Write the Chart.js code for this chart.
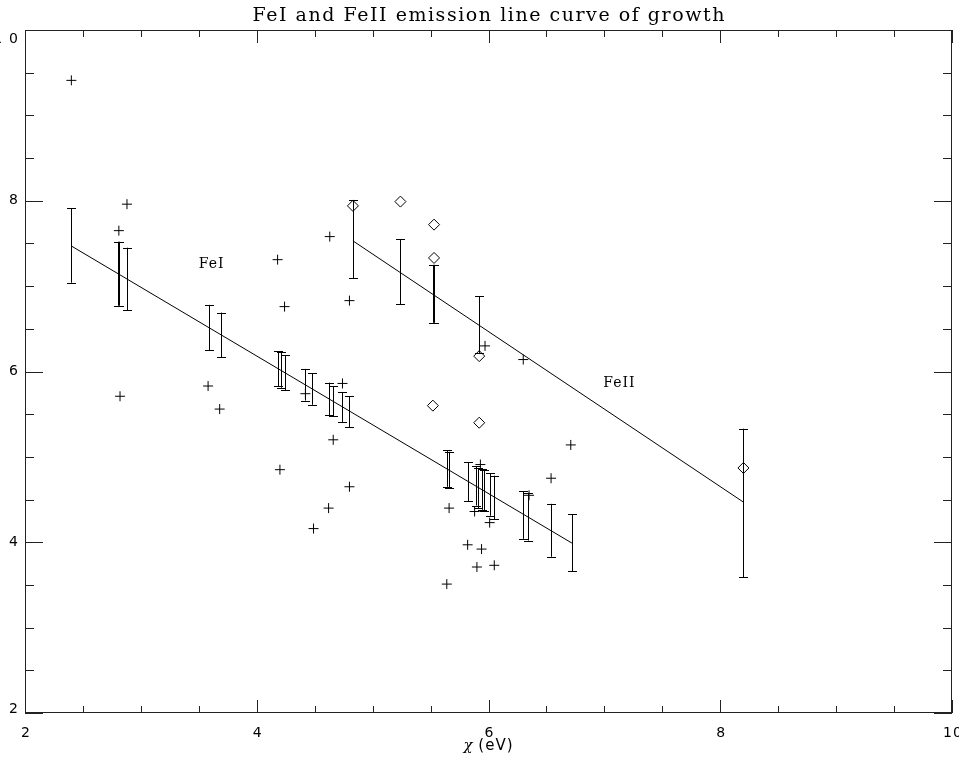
<!DOCTYPE html>
<html>
<head>
<meta charset="utf-8">
<title>FeI and FeII emission line curve of growth</title>
<script src="https://cdn.jsdelivr.net/npm/chart.js@4.4.1/dist/chart.umd.min.js"></script>
<style>
  html, body { margin: 0; padding: 0; background: #fff; }
  #wrap { width: 959px; height: 765px; }
</style>
</head>
<body>
<div id="wrap"><canvas id="chart" width="959" height="765"></canvas></div>
<script>
// Axis ranges and tick labels
const xRange = [2, 10];
const yRange = [2, 10];
const xTickValues = [2, 4, 6, 8, 10];
const xTickLabels = ['2', '4', '6', '8', '10'];
const yTickValues = [2, 4, 6, 8, 10];
const yTickLabels = ['2', '4', '6', '8', '10'];
const minorStep = 0.5;

// FeI measured points (plus signs)
const feIX = [2.40, 2.81, 2.88, 2.82, 3.58, 3.68, 4.18, 4.24, 4.20, 4.49, 4.63, 4.62, 4.66,
              4.80, 4.80, 4.74, 4.42, 5.93, 5.88, 6.01, 5.66, 5.82, 5.94, 5.90, 6.05, 5.64,
              6.54, 6.71, 6.30, 6.35, 5.97];
const feIY = [9.41, 7.65, 7.96, 5.71, 5.83, 5.56, 7.31, 6.76, 4.85, 4.16, 7.58, 4.40, 5.20,
              6.83, 4.65, 5.86, 5.74, 4.91, 4.36, 4.23, 4.40, 3.97, 3.92, 3.71, 3.73, 3.51,
              4.75, 5.14, 6.14, 4.55, 6.30];

// FeII measured points (diamonds)
const feIIX = [4.83, 5.24, 5.53, 5.53, 5.92, 5.52, 5.92, 8.20];
const feIIY = [7.94, 7.99, 7.72, 7.33, 6.18, 5.60, 5.40, 4.87];

// FeI error bars
const feIBarX = [2.40, 2.805, 2.81, 2.88, 3.59, 3.69, 4.18, 4.21, 4.24, 4.42, 4.48, 4.62, 4.66,
                 4.74, 4.80, 5.64, 5.66, 5.82, 5.89, 5.91, 5.94, 5.96, 6.01, 6.05, 6.30, 6.34,
                 6.54, 6.72];
const feIBarHigh = [7.91, 7.52, 7.52, 7.45, 6.78, 6.69, 6.24, 6.23, 6.19, 6.03, 5.98, 5.87, 5.83,
                    5.76, 5.71, 5.08, 5.06, 4.94, 4.89, 4.87, 4.86, 4.85, 4.81, 4.78, 4.60, 4.58,
                    4.45, 4.33];
const feIBarLow = [7.04, 6.77, 6.77, 6.72, 6.25, 6.17, 5.83, 5.81, 5.78, 5.66, 5.61, 5.49, 5.48,
                   5.41, 5.35, 4.65, 4.63, 4.48, 4.43, 4.40, 4.38, 4.37, 4.31, 4.27, 4.04, 4.02,
                   3.83, 3.66];

// FeII error bars
const feIIBarX = [4.83, 5.24, 5.525, 5.53, 5.915, 5.92, 8.20];
const feIIBarHigh = [8.01, 7.55, 7.25, 7.25, 6.88, 6.88, 5.33];
const feIIBarLow = [7.09, 6.79, 6.57, 6.57, 6.22, 6.22, 3.59];

// Fitted curve-of-growth lines
const feIFitX = [2.40, 6.72];
const feIFitY = [7.47, 3.99];
const feIIFitX = [4.83, 8.20];
const feIIFitY = [7.53, 4.47];

// Text
const chartTitle = 'FeI and FeII emission line curve of growth';
const xAxisSymbol = 'χ';
const xAxisUnit = ' (eV)';
const feILabel = { text: 'FeI', x: 3.61, y: 7.26 };
const feIILabel = { text: 'FeII', x: 7.13, y: 5.86 };

const toPoints = (xs, ys) => xs.map((x, i) => ({ x, y: ys[i] }));

// Draws the box, inward ticks, labels and the error bars
const framePlugin = {
  id: 'frame',
  afterDatasetsDraw(chart) {
    const ctx = chart.ctx;
    const xs = chart.scales.x;
    const ys = chart.scales.y;
    ctx.save();
    ctx.strokeStyle = '#000';
    ctx.lineWidth = 1;
    const bars = [[feIBarX, feIBarLow, feIBarHigh], [feIIBarX, feIIBarLow, feIIBarHigh]];
    bars.forEach(([bx, lo, hi]) => {
      bx.forEach((x, i) => {
        const px = Math.round(xs.getPixelForValue(x)) + 0.5;
        const p1 = ys.getPixelForValue(lo[i]);
        const p2 = ys.getPixelForValue(hi[i]);
        ctx.beginPath();
        ctx.moveTo(px, p1);
        ctx.lineTo(px, p2);
        ctx.moveTo(px - 4.5, Math.round(p1) + 0.5);
        ctx.lineTo(px + 4.5, Math.round(p1) + 0.5);
        ctx.moveTo(px - 4.5, Math.round(p2) + 0.5);
        ctx.lineTo(px + 4.5, Math.round(p2) + 0.5);
        ctx.stroke();
      });
    });
    ctx.restore();
  },
  afterDraw(chart) {
    const ctx = chart.ctx;
    const { left, right, top, bottom } = chart.chartArea;
    const xs = chart.scales.x;
    const ys = chart.scales.y;
    ctx.save();
    ctx.strokeStyle = '#222';
    ctx.lineWidth = 1;
    ctx.strokeRect(left + 0.5, top + 0.5, right - left - 1, bottom - top - 1);

    ctx.beginPath();
    for (let v = xRange[0]; v <= xRange[1] + 1e-9; v += minorStep) {
      const major = Math.abs(v % 2) < 1e-9;
      const len = major ? 13 : 7;
      const px = Math.round(xs.getPixelForValue(v)) + 0.5;
      ctx.moveTo(px, bottom);
      ctx.lineTo(px, bottom - len);
      ctx.moveTo(px, top);
      ctx.lineTo(px, top + len);
    }
    for (let v = yRange[0]; v <= yRange[1] + 1e-9; v += minorStep) {
      const major = Math.abs(v % 2) < 1e-9;
      const len = major ? 18 : 9;
      const py = Math.round(ys.getPixelForValue(v)) + 0.5;
      ctx.moveTo(left, py);
      ctx.lineTo(left + len, py);
      ctx.moveTo(right, py);
      ctx.lineTo(right - len, py);
    }
    ctx.stroke();

    ctx.fillStyle = '#000';
    ctx.font = '14px "DejaVu Sans"';
    ctx.textAlign = 'center';
    ctx.textBaseline = 'top';
    ctx.letterSpacing = '1px';
    xTickValues.forEach((v, i) => {
      ctx.fillText(xTickLabels[i], xs.getPixelForValue(v) + 1, bottom + 13);
    });
    // wide spacing pushes the leading digit of "10" off the left edge, as in the original
    ctx.textAlign = 'right';
    ctx.letterSpacing = '7px';
    yTickValues.forEach((v, i) => {
      const py = ys.getPixelForValue(v);
      if (i === 0) {
        ctx.textBaseline = 'alphabetic';
        ctx.fillText(yTickLabels[i], 25, py);
      } else if (i === yTickValues.length - 1) {
        ctx.textBaseline = 'top';
        ctx.fillText(yTickLabels[i], 25, py + 2);
      } else {
        ctx.textBaseline = 'middle';
        ctx.fillText(yTickLabels[i], 25, py);
      }
    });
    ctx.letterSpacing = '0px';

    // title, spread to the width of the original
    ctx.font = '19px "DejaVu Serif"';
    ctx.textBaseline = 'alphabetic';
    ctx.textAlign = 'left';
    const target = 472;
    const w = ctx.measureText(chartTitle).width;
    const spacing = (target - w) / (chartTitle.length - 1);
    ctx.letterSpacing = spacing.toFixed(2) + 'px';
    const cx = (left + right) / 2;
    ctx.fillText(chartTitle, cx - target / 2, 21);
    ctx.letterSpacing = '0px';

    // x axis title
    ctx.font = 'italic 15px "DejaVu Serif"';
    const w1 = ctx.measureText(xAxisSymbol).width;
    ctx.font = '15px "DejaVu Sans"';
    ctx.letterSpacing = '1px';
    const w2 = ctx.measureText(xAxisUnit).width;
    const x0 = cx - (w1 + w2) / 2;
    ctx.font = 'italic 15px "DejaVu Serif"';
    ctx.letterSpacing = '0px';
    ctx.fillText(xAxisSymbol, x0, 750);
    ctx.font = '15px "DejaVu Sans"';
    ctx.letterSpacing = '1px';
    ctx.fillText(xAxisUnit, x0 + w1, 750);
    ctx.letterSpacing = '0px';

    // line labels
    ctx.font = '14px "DejaVu Serif"';
    ctx.letterSpacing = '1px';
    ctx.textAlign = 'center';
    ctx.textBaseline = 'middle';
    [feILabel, feIILabel].forEach(l => {
      ctx.fillText(l.text, xs.getPixelForValue(l.x), ys.getPixelForValue(l.y));
    });
    ctx.restore();
  }
};

new Chart(document.getElementById('chart'), {
  type: 'scatter',
  data: {
    datasets: [
      {
        label: 'FeI',
        data: toPoints(feIX, feIY),
        pointStyle: 'cross',
        radius: 5,
        borderColor: '#000',
        borderWidth: 1
      },
      {
        label: 'FeII',
        data: toPoints(feIIX, feIIY),
        pointStyle: 'rectRot',
        radius: 5.5,
        borderColor: '#000',
        backgroundColor: 'rgba(0,0,0,0)',
        borderWidth: 1
      },
      {
        type: 'line',
        label: 'FeI fit',
        data: toPoints(feIFitX, feIFitY),
        borderColor: '#000',
        borderWidth: 1,
        pointRadius: 0,
        fill: false
      },
      {
        type: 'line',
        label: 'FeII fit',
        data: toPoints(feIIFitX, feIIFitY),
        borderColor: '#000',
        borderWidth: 1,
        pointRadius: 0,
        fill: false
      }
    ]
  },
  options: {
    responsive: false,
    animation: false,
    layout: { padding: { left: 25, right: 7, top: 30, bottom: 52 } },
    plugins: {
      legend: { display: false },
      tooltip: { enabled: false },
      title: { display: false }
    },
    scales: {
      x: { type: 'linear', min: xRange[0], max: xRange[1], display: false },
      y: { type: 'linear', min: yRange[0], max: yRange[1], display: false }
    }
  },
  plugins: [framePlugin]
});
</script>
</body>
</html>
